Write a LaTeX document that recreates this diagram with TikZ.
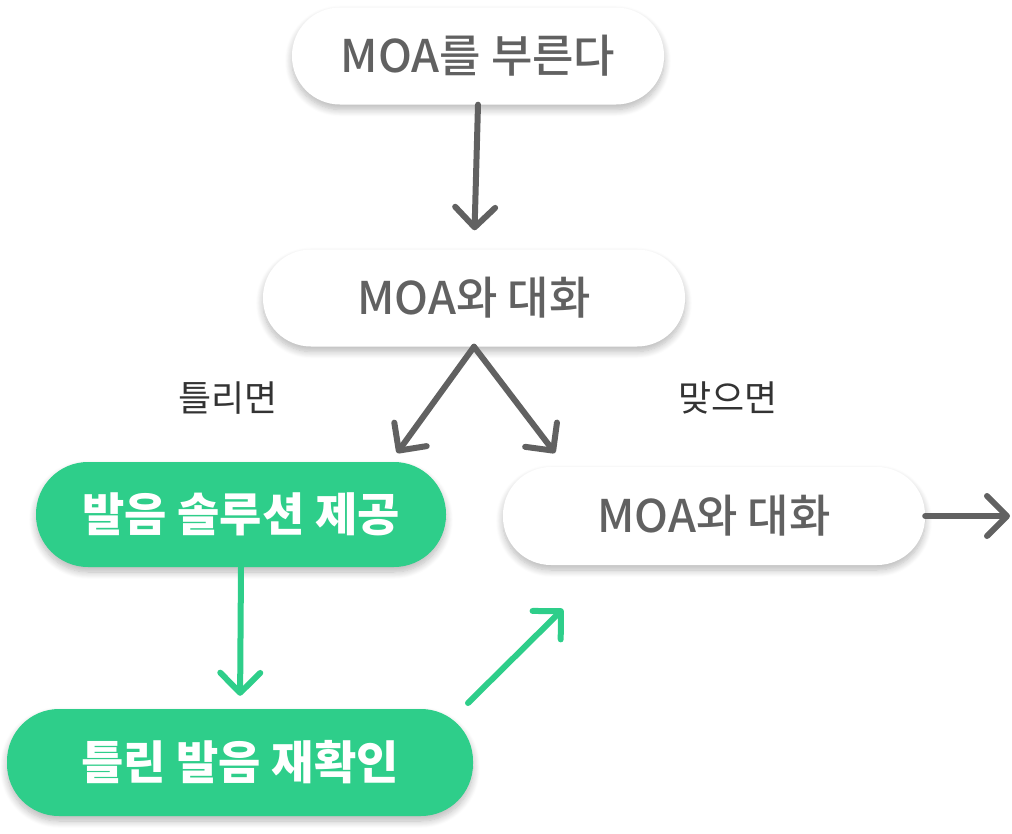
\documentclass[tikz,border=0pt]{standalone}
\usepackage{fontspec}
\newfontfamily\kr{Noto Sans CJK KR}
\newfontfamily\krm{Noto Sans CJK KR Medium}
\usetikzlibrary{arrows.meta,shadows.blur}
\definecolor{gr}{HTML}{2ECE8A}
\definecolor{dk}{HTML}{616161}
\definecolor{lbl}{HTML}{333333}
\newcommand{\up}[2]{\raisebox{#1}{#2}}
\tikzset{
  pill/.style={rectangle, rounded corners=#1, inner sep=0pt, align=center,
    blur shadow={shadow xshift=0pt, shadow yshift=-5pt, shadow blur radius=7pt, shadow blur steps=10, shadow opacity=28}},
  whitepill/.style={pill=48pt, fill=white, text=dk, font=\krm\fontsize{45}{52}\selectfont},
  greenpill/.style={pill=52pt, fill=gr, text=white, font=\kr\bfseries\fontsize{46}{54}\selectfont},
  lab/.style={text=lbl, font=\kr\fontsize{36}{42}\selectfont, inner sep=0pt},
  darr/.style={draw=dk, line width=6pt, line cap=round, -{Straight Barb[length=20pt, width=40pt, round]}},
  garr/.style={draw=gr, line width=6pt, line cap=round, -{Straight Barb[length=20pt, width=40pt, round]}}
}
\begin{document}
\begin{tikzpicture}[x=1pt,y=-1pt]
\useasboundingbox (0,0) rectangle (1012,833);
\node[whitepill, minimum width=372pt, minimum height=97pt] (n1) at (478,56) {\up{4pt}{MOA를 부른다}};
\node[whitepill, minimum width=422pt, minimum height=97pt] (n2) at (474,298) {\up{5pt}{MOA와 대화}};
\node[greenpill, minimum width=410pt, minimum height=105pt] (n3) at (241,514.5) {\up{2pt}{발음 솔루션 제공}};
\node[whitepill, minimum width=422pt, minimum height=98pt] (n4) at (714,516) {MOA와 대화};
\node[greenpill, minimum width=466pt, minimum height=107pt] (n5) at (240,762.5) {\up{4pt}{틀린 발음 재확인}};
\node[lab] (l1) at (228,398) {틀리면};
\node[lab] (l2) at (728,398) {맞으면};
\coordinate (tipL) at (397,453);
\coordinate (tipR) at (555,453);
\coordinate (endR) at (1010,516);
\coordinate (gA) at (468,703);
\coordinate (gB) at (563,609);
\draw[darr, shorten >=19pt] (n1.south) -- (n2.north);
\draw[darr] (n2.south) -- (tipL);
\draw[darr] (n2.south) -- (tipR);
\draw[darr] (n4.east) -- (endR);
\draw[garr, shorten >=13pt] (n3.south) -- (n5.north);
\draw[garr] (gA) -- (gB);
\end{tikzpicture}
\end{document}
